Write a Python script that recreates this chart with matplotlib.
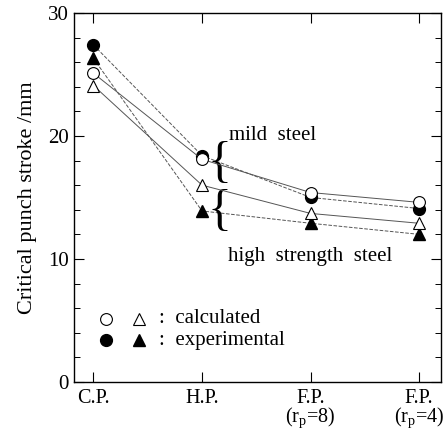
import matplotlib.pyplot as plt

plt.rcParams["font.family"] = ["Liberation Serif", "DejaVu Serif"]

categories = ["C.P.", "H.P.", "F.P.\n($\\mathregular{r_p}$=8)", "F.P.\n($\\mathregular{r_p}$=4)"]
mild_calc = [25.1, 18.1, 15.4, 14.6]
mild_exp = [27.4, 18.4, 15.0, 14.1]
high_calc = [24.1, 16.0, 13.7, 12.9]
high_exp = [26.3, 13.9, 12.9, 12.0]

x = list(range(len(categories)))
lc = "#555555"

fig = plt.figure(figsize=(4.48, 4.33), dpi=100)
ax = fig.add_axes([0.165, 0.118, 0.819, 0.852])

ax.plot(x, mild_exp, ls="--", lw=0.7, color=lc, marker="o", ms=8.5, mfc="black", mec="black", zorder=3)
ax.plot(x, high_exp, ls="--", lw=0.7, color=lc, marker="^", ms=8.5, mfc="black", mec="black", zorder=3)
ax.plot(x, mild_calc, ls="-", lw=0.7, color=lc, marker="o", ms=8.5, mfc="white", mec="black", mew=0.8, zorder=4)
ax.plot(x, high_calc, ls="-", lw=0.7, color=lc, marker="^", ms=8.5, mfc="white", mec="black", mew=0.8, zorder=4)

ax.set_xlim(-0.18, 3.2)
ax.set_ylim(0, 30)
ax.set_xticks(x)
ax.set_xticklabels(categories, fontsize=14.5, linespacing=0.85)
ax.set_yticks([0, 10, 20, 30])
ax.set_yticks(range(0, 31, 2), minor=True)
ax.tick_params(axis="both", direction="in", top=True, right=True, labelsize=15, length=7, width=0.8)
ax.tick_params(axis="x", labelsize=14.5, pad=5)
ax.tick_params(axis="y", which="minor", direction="in", right=True, length=4, width=0.7)
for s in ax.spines.values():
    s.set_linewidth(1.0)
ax.set_ylabel("Critical punch stroke /mm", fontsize=16, labelpad=8)

ax.text(1.16, 17.7, "{", fontsize=36, va="center", ha="center", fontweight="light")
ax.text(1.25, 20.0, "mild  steel", fontsize=15, va="center", ha="left")
ax.text(1.16, 13.8, "{", fontsize=36, va="center", ha="center", fontweight="light")
ax.text(1.24, 10.2, "high  strength  steel", fontsize=15, va="center", ha="left")

ax.plot([0.12], [5.15], marker="o", ms=8.5, mfc="white", mec="black", mew=0.8, ls="none")
ax.plot([0.42], [5.15], marker="^", ms=8.5, mfc="white", mec="black", mew=0.8, ls="none")
ax.plot([0.12], [3.4], marker="o", ms=8.5, mfc="black", mec="black", ls="none")
ax.plot([0.42], [3.4], marker="^", ms=8.5, mfc="black", mec="black", ls="none")
ax.text(0.6, 5.15, ":  calculated", fontsize=15, va="center", ha="left")
ax.text(0.6, 3.4, ":  experimental", fontsize=15, va="center", ha="left")

fig.savefig("out.png", dpi=100)
